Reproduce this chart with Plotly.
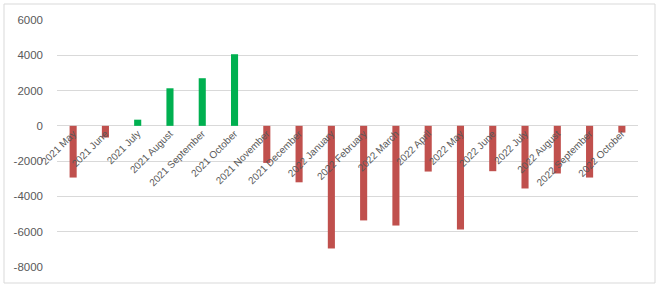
import plotly.graph_objects as go

months = ["2021 May", "2021 June", "2021 July", "2021 August", "2021 September",
          "2021 October", "2021 November", "2021 December", "2022 January",
          "2022 February", "2022 March", "2022 April", "2022 May", "2022 June",
          "2022 July", "2022 August", "2022 September", "2022 October"]
values = [-2930, -660, 350, 2130, 2700, 4060, -2100, -3200, -6950,
          -5360, -5650, -2590, -5880, -2570, -3550, -2700, -2930, -380]
y_ticks = [-8000, -6000, -4000, -2000, 0, 2000, 4000, 6000]
y_tick_labels = ["-8000", "-6000", "-4000", "-2000", "0", "2000", "4000", "6000"]

POS = "#00B050"
NEG = "#C0504D"
colors = [POS if v >= 0 else NEG for v in values]

W, H = 660, 293
L, R, T, B = 57, 638, 20, 267

fig = go.Figure(go.Bar(x=months, y=values, marker_color=colors, marker_line_width=0))

zero_pos = (B - 125) / (B - T)

fig.update_layout(
    width=W, height=H,
    margin=dict(l=L, r=W - R, t=T, b=H - B),
    plot_bgcolor="white", paper_bgcolor="white",
    bargap=0.78,
    showlegend=False,
    font=dict(family="Liberation Sans, Arial, sans-serif", color="#595959"),
    xaxis=dict(
        type="category", anchor="free", position=zero_pos,
        showgrid=False, showline=False, zeroline=False,
        tickangle=-45, tickfont=dict(size=10, color="#595959"),
        ticks="", ticklabelstandoff=0,
    ),
    yaxis=dict(
        range=[-8000, 6000], tickvals=y_ticks, ticktext=y_tick_labels,
        showgrid=True, gridcolor="#D9D9D9", gridwidth=1,
        zeroline=True, zerolinecolor="#D9D9D9", zerolinewidth=1,
        showline=False, ticks="", ticklabelstandoff=13,
        tickfont=dict(size=11.5, color="#595959"),
    ),
    shapes=[dict(
        type="rect", xref="paper", yref="paper",
        x0=(4 - L) / (R - L), x1=(655 - L) / (R - L),
        y0=(B - 283) / (B - T), y1=(B - 4) / (B - T),
        line=dict(color="#D9D9D9", width=1), fillcolor="rgba(0,0,0,0)", layer="below",
    )],
)

fig.write_html("out.html")
